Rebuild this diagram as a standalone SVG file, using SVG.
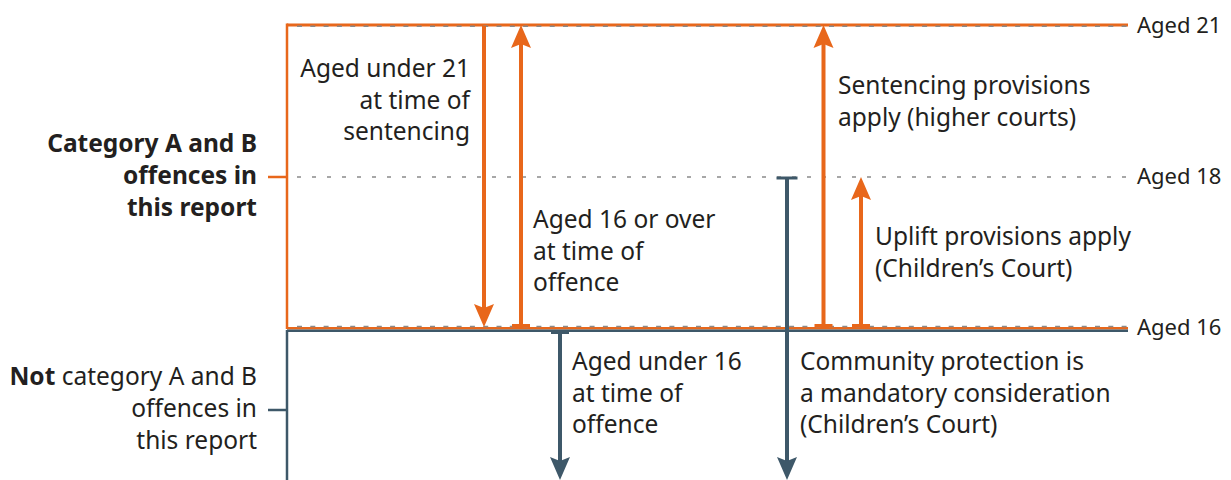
<svg xmlns="http://www.w3.org/2000/svg" width="1231" height="480" viewBox="0 0 1231 480">
<style>
.t{font-family:"Noto Sans","Liberation Sans",sans-serif;font-size:24.5px;fill:#231f20}
.r{text-anchor:end}
.b{font-weight:bold}
.lab{font-family:"Noto Sans","Liberation Sans",sans-serif;font-size:22px;fill:#231f20}
.or{stroke:#e8671b;fill:none}
.sl{stroke:#3e5869;fill:none}
.gd{stroke:#8a8a8a;stroke-width:1.5;fill:none}
.ho{fill:#e8671b}
.hs{fill:#3e5869}
</style>
<defs>
<path id="head" d="M0,0 L-10,-23 L0,-19 L10,-23 Z"/>
</defs>

<g id="frame">
<line class="or" x1="287" y1="25" x2="1128" y2="25" stroke-width="3"/>
<line class="gd" x1="297" y1="26.3" x2="1128" y2="26.3" stroke-dasharray="5 8.3"/>
<line class="or" x1="287" y1="23.5" x2="287" y2="329" stroke-width="2.5"/>
<line class="or" x1="268" y1="177" x2="287" y2="177" stroke-width="2.5"/>
<line class="gd" x1="297" y1="177" x2="1128" y2="177" stroke-dasharray="4 11" stroke="#666"/>
<line class="or" x1="287" y1="328.3" x2="1128" y2="328.3" stroke-width="2.5"/>
<line class="gd" x1="297" y1="326.5" x2="1128" y2="326.5" stroke-dasharray="5 8.3"/>
<line class="sl" x1="287" y1="330.8" x2="1128" y2="330.8" stroke-width="2.5"/>
<line class="sl" x1="287" y1="330" x2="287" y2="480" stroke-width="2.5"/>
<line class="sl" x1="268" y1="410" x2="287" y2="410" stroke-width="2.5"/>
</g>

<g id="connectors">
<line class="or" x1="484" y1="26" x2="484" y2="310" stroke-width="4"/>
<use href="#head" class="ho" transform="translate(484,327)"/>
<line class="or" x1="521" y1="326" x2="521" y2="40" stroke-width="4"/>
<use href="#head" class="ho" transform="translate(521,25) rotate(180)"/>
<line class="or" x1="512" y1="325.5" x2="530" y2="325.5" stroke-width="3"/>
<line class="sl" x1="560" y1="332" x2="560" y2="465" stroke-width="4"/>
<use href="#head" class="hs" transform="translate(560,480)"/>
<line class="sl" x1="551" y1="332.5" x2="569" y2="332.5" stroke-width="3"/>
<line class="sl" x1="787" y1="178" x2="787" y2="465" stroke-width="4"/>
<use href="#head" class="hs" transform="translate(787,480)"/>
<line class="sl" x1="776.5" y1="178" x2="797.5" y2="178" stroke-width="3"/>
<line class="or" x1="823.5" y1="326" x2="823.5" y2="40" stroke-width="4"/>
<use href="#head" class="ho" transform="translate(823.5,25) rotate(180)"/>
<line class="or" x1="814.5" y1="325.5" x2="832.5" y2="325.5" stroke-width="3"/>
<line class="or" x1="861" y1="326" x2="861" y2="192" stroke-width="4"/>
<use href="#head" class="ho" transform="translate(861,177) rotate(180)"/>
<line class="or" x1="852" y1="325.5" x2="870" y2="325.5" stroke-width="3"/>
</g>

<g id="cat-ab">
<text class="t b r" x="257" y="152">Category A and B</text>
<text class="t b r" x="257" y="184">offences in</text>
<text class="t b r" x="257" y="216">this report</text>
</g>
<g id="not-cat-ab">
<text class="t r" x="257" y="385"><tspan class="b">Not</tspan> category A and B</text>
<text class="t r" x="257" y="417">offences in</text>
<text class="t r" x="257" y="449">this report</text>
</g>
<g id="under21">
<text class="t r" x="470" y="77">Aged under 21</text>
<text class="t r" x="470" y="108.5">at time of</text>
<text class="t r" x="470" y="140">sentencing</text>
</g>
<g id="over16">
<text class="t" x="533" y="228">Aged 16 or over</text>
<text class="t" x="533" y="259.5">at time of</text>
<text class="t" x="533" y="291">offence</text>
</g>
<g id="under16">
<text class="t" x="572" y="370">Aged under 16</text>
<text class="t" x="572" y="401.5">at time of</text>
<text class="t" x="572" y="433">offence</text>
</g>
<g id="sentencing">
<text class="t" x="838" y="94">Sentencing provisions</text>
<text class="t" x="838" y="125.5">apply (higher courts)</text>
</g>
<g id="uplift">
<text class="t" x="875" y="245">Uplift provisions apply</text>
<text class="t" x="875" y="276.5">(Children’s Court)</text>
</g>
<g id="community">
<text class="t" x="800" y="370">Community protection is</text>
<text class="t" x="800" y="401.5">a mandatory consideration</text>
<text class="t" x="800" y="433">(Children’s Court)</text>
</g>
<g id="age-labels">
<text class="lab" x="1137" y="33">Aged 21</text>
<text class="lab" x="1137" y="184">Aged 18</text>
<text class="lab" x="1137" y="334.5">Aged 16</text>
</g>
</svg>
